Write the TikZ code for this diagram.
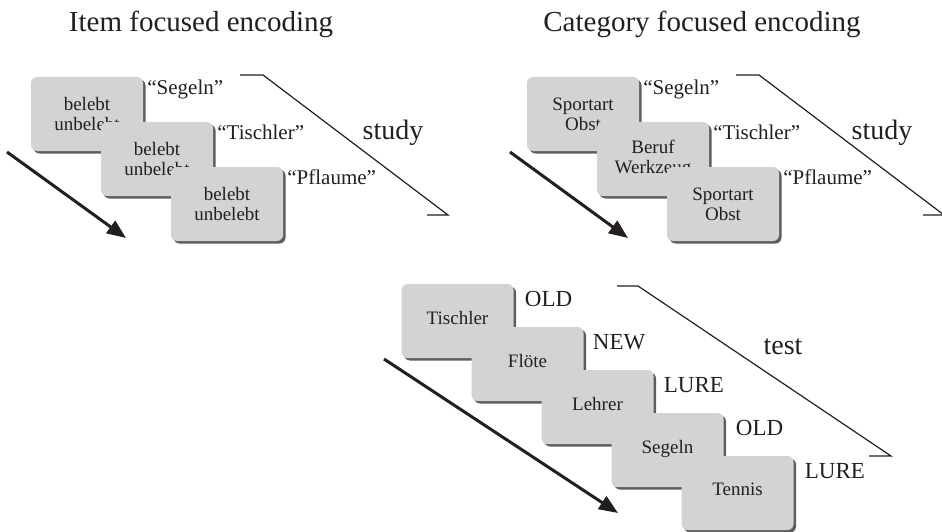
\documentclass[tikz,border=0pt]{standalone}
\usepackage{fontspec}
\setmainfont{Liberation Serif}
\usetikzlibrary{arrows.meta,shadows}
\definecolor{cardgray}{HTML}{D3D3D5}
\definecolor{shadowgray}{HTML}{5E5E60}
\definecolor{ink}{HTML}{231F20}
\begin{document}
\begin{tikzpicture}[x=1pt,y=-1pt,
  card/.style={rectangle, rounded corners=6pt, fill=cardgray, minimum width=112pt,
    minimum height=74pt, inner sep=0pt, align=center, text=ink,
    font=\fontsize{19}{20}\selectfont,
    drop shadow={shadow xshift=2.5pt, shadow yshift=-2.5pt, fill=shadowgray, opacity=1}},
  onecard/.style={card, text depth=7pt},
  qlab/.style={anchor=base west, inner sep=0pt, text=ink, font=\fontsize{21}{21}\selectfont},
  blab/.style={anchor=base west, inner sep=0pt, text=ink, font=\fontsize{23}{23}\selectfont},
  phase/.style={inner sep=0pt, text=ink, font=\fontsize{28}{28}\selectfont},
  titletext/.style={anchor=base, inner sep=0pt, text=ink, font=\fontsize{29}{29}\selectfont},
  bracket/.style={draw=ink, line width=1.2pt},
  flow/.style={draw=ink, line width=3pt, -{Triangle[length=19pt,width=15pt]}}]
\useasboundingbox (0,0) rectangle (942,532);
\clip (0,0) rectangle (942,532);

% titles
\node[titletext] (t1) at (201,32) {Item focused encoding};
\node[titletext] (t2) at (702,32) {Category focused encoding};

% ---------- item focused ----------
\draw[bracket] (240,75) -- (263,75) -- (448,215) -- (427,215);
\node[phase] (s1) at (393,133) {study};
\coordinate (a1s) at (7,152);
\coordinate (a1e) at (126,238);
\draw[flow] (a1s) -- (a1e);

\node[card] (l1) at (87,114) {belebt\\unbelebt};
\node[qlab] (lq1) at ([xshift=4pt,yshift=-18pt]l1.north east) {“Segeln”};
\node[card] (l2) at (157,159) {belebt\\unbelebt};
\node[qlab] (lq2) at ([xshift=4pt,yshift=-18pt]l2.north east) {“Tischler”};
\node[card] (l3) at (227,204) {belebt\\unbelebt};
\node[qlab] (lq3) at ([xshift=4pt,yshift=-18pt]l3.north east) {“Pflaume”};

% ---------- category focused ----------
\draw[bracket] (736,75) -- (759,75) -- (944,215) -- (923,215);
\node[phase] (s2) at (882,133) {study};
\coordinate (a2s) at (510,152);
\coordinate (a2e) at (628,238);
\draw[flow] (a2s) -- (a2e);

\node[card] (r1) at (583,114) {Sportart\\Obst};
\node[qlab] (rq1) at ([xshift=4pt,yshift=-18pt]r1.north east) {“Segeln”};
\node[card] (r2) at (653,159) {Beruf\\Werkzeug};
\node[qlab] (rq2) at ([xshift=4pt,yshift=-18pt]r2.north east) {“Tischler”};
\node[card] (r3) at (723,204) {Sportart\\Obst};
\node[qlab] (rq3) at ([xshift=4pt,yshift=-18pt]r3.north east) {“Pflaume”};

% ---------- test ----------
\draw[bracket] (617,286) -- (638,286) -- (891,456) -- (869,456);
\node[phase] (s3) at (783,347) {test};
\coordinate (a3s) at (384,359);
\coordinate (a3e) at (618,513);
\draw[flow] (a3s) -- (a3e);

\node[onecard] (b1) at (457.5,321) {Tischler};
\node[blab] (bl1) at ([xshift=11pt,yshift=-23pt]b1.north east) {OLD};
\node[onecard] (b2) at (527.5,364) {Flöte};
\node[blab] (bl2) at ([xshift=9pt,yshift=-23pt]b2.north east) {NEW};
\node[onecard] (b3) at (597.5,407) {Lehrer};
\node[blab] (bl3) at ([xshift=10pt,yshift=-23pt]b3.north east) {LURE};
\node[onecard] (b4) at (667.5,450) {Segeln};
\node[blab] (bl4) at ([xshift=12pt,yshift=-23pt]b4.north east) {OLD};
\node[onecard] (b5) at (737.5,493) {Tennis};
\node[blab] (bl5) at ([xshift=11pt,yshift=-23pt]b5.north east) {LURE};
\end{tikzpicture}
\end{document}
